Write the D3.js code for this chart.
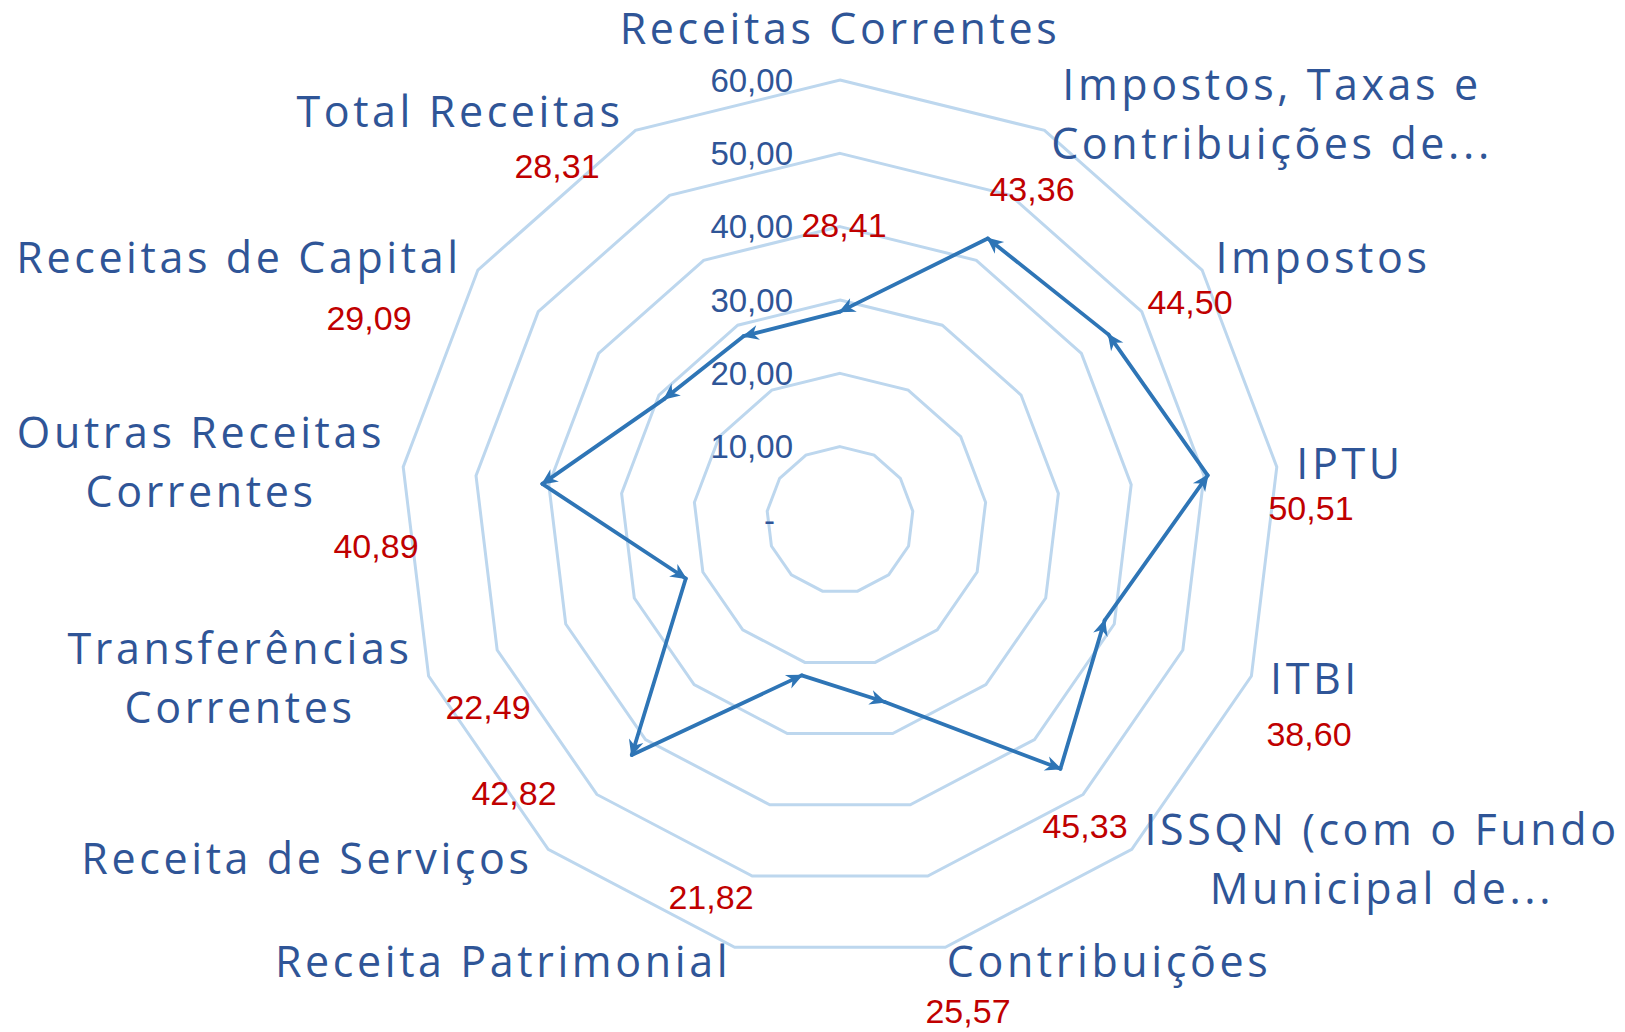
<!DOCTYPE html>
<html>
<head>
<meta charset="utf-8">
<script src="https://cdn.jsdelivr.net/npm/d3@7"></script>
<style>
  html, body { margin: 0; padding: 0; background: #fff; }
  svg { display: block; }
</style>
</head>
<body>
<div id="chart"></div>
<script>
// Radar: receitas municipais (valores em %)
const categories = [
  'Receitas Correntes',
  'Impostos, Taxas e\nContribuições de...',
  'Impostos',
  'IPTU',
  'ITBI',
  'ISSQN (com o Fundo\nMunicipal de...',
  'Contribuições',
  'Receita Patrimonial',
  'Receita de Serviços',
  'Transferências\nCorrentes',
  'Outras Receitas\nCorrentes',
  'Receitas de Capital',
  'Total Receitas'
];
const values = [28.41, 43.36, 44.50, 50.51, 38.60, 45.33, 25.57, 21.82, 42.82, 22.49, 40.89, 29.09, 28.31];
const ticks  = [0, 10, 20, 30, 40, 50, 60];

// label anchors as Excel placed them (center x, first baseline y)
const catLabelPos = [
  [840, 44], [1272, 100], [1323, 273], [1350, 479], [1315, 694], [1382, 845],
  [1109, 977], [503, 977], [307, 874], [240, 664], [201, 448], [239, 273], [460, 127]
];
// value labels (center x, middle y)
const valLabelPos = [
  [844, 225], [1032, 189], [1190, 302], [1311, 508], [1309, 734], [1085, 826],
  [968, 1011], [711, 897], [514, 793], [488, 707], [376, 546], [369, 318], [557, 166]
];

const W = 1625, H = 1032;
const cx = 840, cy = 520, R = 440;
const GRID = '#BDD7EE', LINE = '#2E75B6', TXT = '#2F5597', RED = '#C00000';

const fmt = v => v === 0 ? '-' : d3.format('.2f')(v).replace('.', ',');

const r = d3.scaleLinear().domain([0, 60]).range([0, R]);
const ang = d3.scaleLinear().domain([0, categories.length]).range([0, 2 * Math.PI]);
const pt = (i, v) => [cx + r(v) * Math.sin(ang(i)), cy - r(v) * Math.cos(ang(i))];

const svg = d3.select('#chart').append('svg')
  .attr('width', W).attr('height', H)
  .attr('viewBox', `0 0 ${W} ${H}`);

svg.append('defs').append('marker')
  .attr('id', 'arrow')
  .attr('markerUnits', 'userSpaceOnUse')
  .attr('viewBox', '-18 -10 20 20')
  .attr('markerWidth', 20).attr('markerHeight', 20)
  .attr('refX', 0).attr('refY', 0)
  .attr('orient', 'auto')
  .append('path')
    .attr('d', 'M1.5,0 L-15,-7.5 L-10,0 L-15,7.5 Z')
    .attr('fill', LINE);

// ── grid rings ──
const idx = d3.range(categories.length);
const ringLine = d3.line();
svg.append('g').selectAll('path')
  .data(ticks.filter(t => t > 0))
  .join('path')
    .attr('d', t => ringLine(idx.map(i => pt(i, t))) + 'Z')
    .attr('fill', 'none')
    .attr('stroke', GRID)
    .attr('stroke-width', 3)
    .attr('stroke-linejoin', 'miter');

// ── tick labels ──
svg.append('g').selectAll('text')
  .data(ticks)
  .join('text')
    .attr('x', t => t === 0 ? cx - 65 : cx - 47)
    .attr('y', t => cy - r(t))
    .attr('dy', '0.35em')
    .attr('text-anchor', 'end')
    .attr('font-family', 'Liberation Sans, Arial, sans-serif')
    .attr('font-size', 33)
    .attr('fill', TXT)
    .text(fmt);

// ── series: segments run counter-clockwise, arrow at each vertex ──
const segs = idx.map(i => ({ from: pt((i + 1) % values.length, values[(i + 1) % values.length]), to: pt(i, values[i]) }));
svg.append('g').selectAll('line')
  .data(segs)
  .join('line')
    .attr('x1', d => d.from[0]).attr('y1', d => d.from[1])
    .attr('x2', d => d.to[0]).attr('y2', d => d.to[1])
    .attr('stroke', LINE)
    .attr('stroke-width', 3.8)
    .attr('stroke-linecap', 'round')
    .attr('marker-end', 'url(#arrow)');

// ── category labels ──
const cat = svg.append('g').selectAll('text')
  .data(categories)
  .join('text')
    .attr('text-anchor', 'middle')
    .attr('font-family', 'Open Sans, sans-serif')
    .attr('font-size', 43)
    .attr('letter-spacing', 3.6)
    .attr('fill', TXT);
cat.each(function(d, i) {
  const [x, y] = catLabelPos[i];
  d3.select(this).selectAll('tspan')
    .data(d.split('\n'))
    .join('tspan')
      .attr('x', x)
      .attr('y', (s, k) => y + k * 59)
      .text(s => s);
});

// ── value labels ──
svg.append('g').selectAll('text')
  .data(values)
  .join('text')
    .attr('x', (d, i) => valLabelPos[i][0])
    .attr('y', (d, i) => valLabelPos[i][1])
    .attr('dy', '0.35em')
    .attr('text-anchor', 'middle')
    .attr('font-family', 'Liberation Sans, Arial, sans-serif')
    .attr('font-size', 34)
    .attr('fill', RED)
    .text(fmt);
</script>
</body>
</html>
